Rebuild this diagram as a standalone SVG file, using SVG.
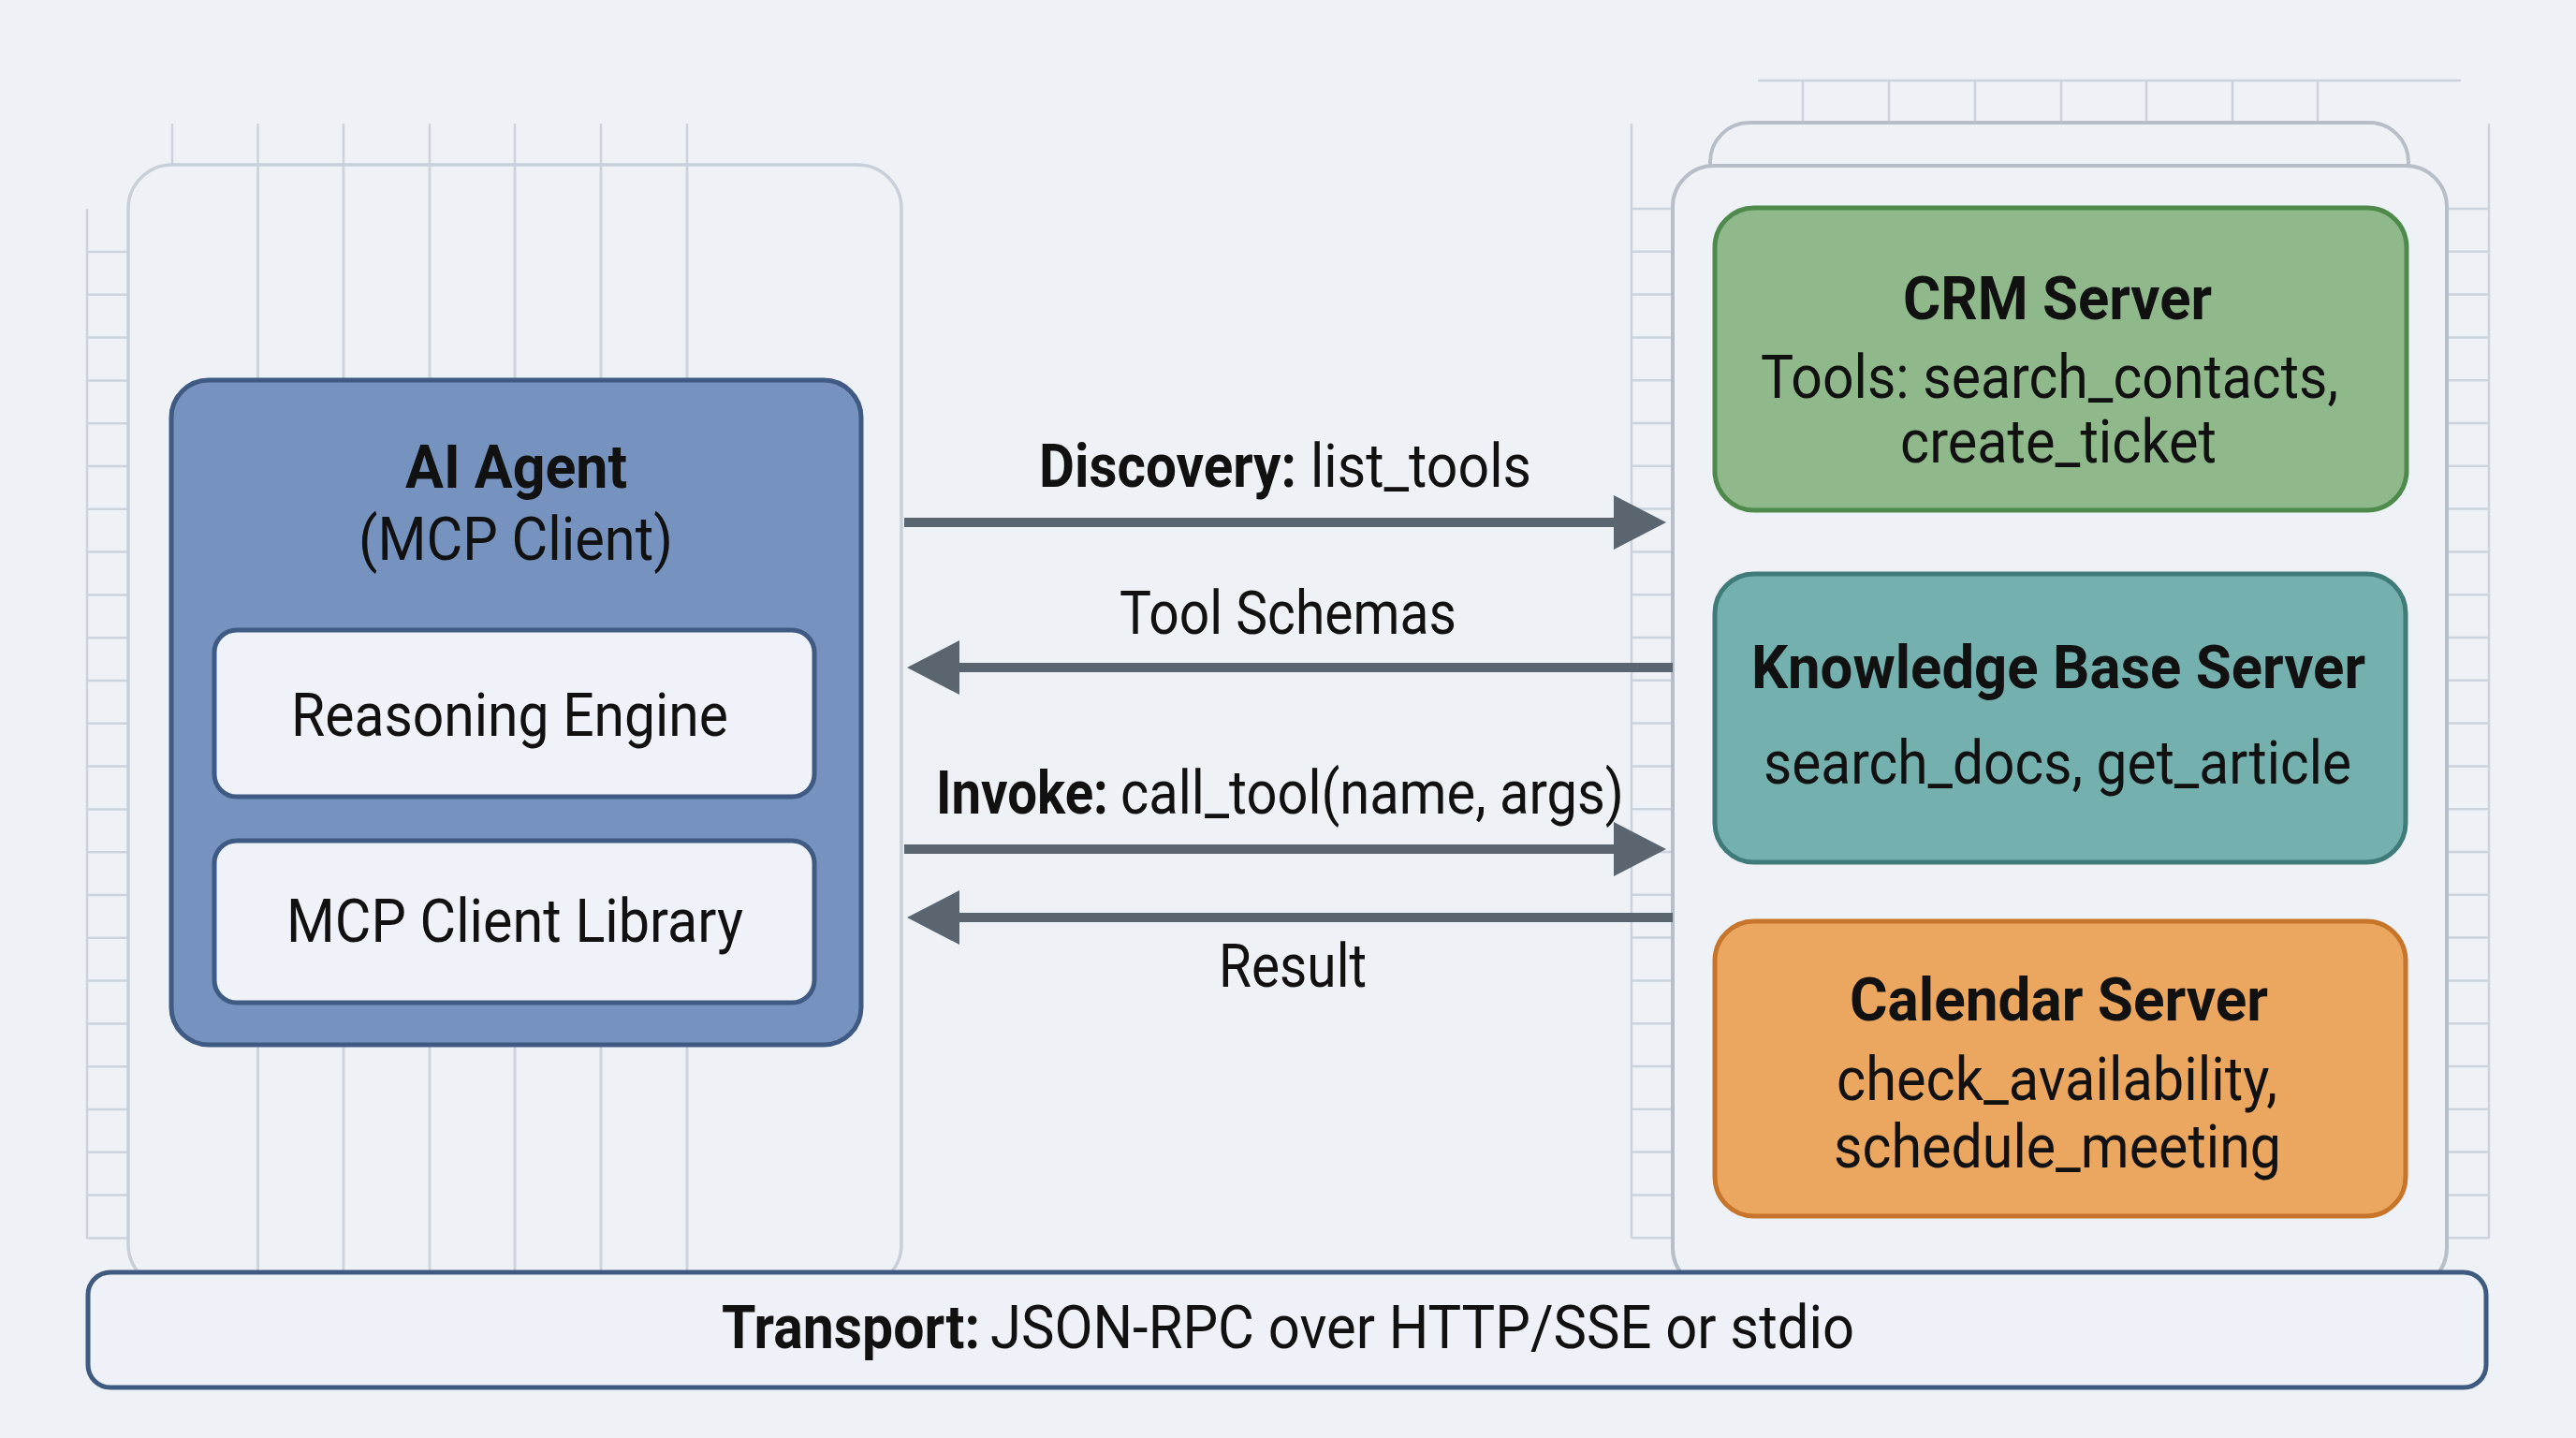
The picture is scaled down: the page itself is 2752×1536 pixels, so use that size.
<svg xmlns="http://www.w3.org/2000/svg" width="2752" height="1536" viewBox="0 0 2752 1536">
<style>
.grid{stroke:#cdd3dc;stroke-width:2.5;fill:none}
.cont{fill:#eef2f7;stroke:#c9cfd8;stroke-width:3.5}
.cont2{fill:#eef2f7;stroke:#b7bec8;stroke-width:4}
.node{stroke-width:5}
.agent{fill:#7593be;stroke:#3f5a83}
.inner{fill:#eff3f9;stroke:#3f5a83}
.crm{fill:#8fb98b;stroke:#4e8a4c}
.kb{fill:#73b0ae;stroke:#3f7b79}
.cal{fill:#eba75f;stroke:#c6752a}
.transport{fill:#eef2f8;stroke:#3e5a80}
.arrow{stroke:#5b6570;stroke-width:10;fill:none}
text{font-family:Roboto,'Liberation Sans',sans-serif;fill:#111;font-size:64px}
.b{font-weight:700}
</style>
<defs>
<marker id="ah" markerUnits="userSpaceOnUse" markerWidth="56" markerHeight="60" refX="26" refY="30" orient="auto">
<path d="M0,1 L56,30 L0,59 z" fill="#5b6570"/>
</marker>
</defs>
<rect x="0" y="0" width="2752" height="1536" fill="#eef2f7"/>

<g id="background-grid">
<path class="grid" d="M184,132V177 M275.5,132V1358 M367,132V1358 M459,132V1358 M550,132V1358 M642,132V1358 M734,132V1358"/>
<path class="grid" d="M93,223V1323 M93,269H137 M93,314.8H137 M93,360.6H137 M93,406.4H137 M93,452.2H137 M93,498H137 M93,543.8H137 M93,589.6H137 M93,635.4H137 M93,681.2H137 M93,727H137 M93,772.8H137 M93,818.6H137 M93,864.4H137 M93,910.2H137 M93,956H137 M93,1001.8H137 M93,1047.6H137 M93,1093.4H137 M93,1139.2H137 M93,1185H137 M93,1230.8H137 M93,1276.6H137 M93,1322.4H137"/>
<path class="grid" d="M1878,86H2629 M1926,86V131 M2018,86V131 M2110,86V131 M2202,86V131 M2293,86V131 M2385,86V131 M2476,86V131"/>
<path class="grid" d="M1743,132V1323 M2659,132V1323"/>
<path class="grid" d="M1743,223H1787 M1743,268.8H1787 M1743,314.6H1787 M1743,360.4H1787 M1743,406.2H1787 M1743,452H1787 M1743,497.8H1787 M1743,543.6H1787 M1743,589.4H1787 M1743,635.2H1787 M1743,681H1787 M1743,726.8H1787 M1743,772.6H1787 M1743,818.4H1787 M1743,864.2H1787 M1743,910H1787 M1743,955.8H1787 M1743,1001.6H1787 M1743,1047.4H1787 M1743,1093.2H1787 M1743,1139H1787 M1743,1184.8H1787 M1743,1230.6H1787 M1743,1276.4H1787 M1743,1322.2H1787"/>
<path class="grid" d="M2614,223H2659 M2614,268.8H2659 M2614,314.6H2659 M2614,360.4H2659 M2614,406.2H2659 M2614,452H2659 M2614,497.8H2659 M2614,543.6H2659 M2614,589.4H2659 M2614,635.2H2659 M2614,681H2659 M2614,726.8H2659 M2614,772.6H2659 M2614,818.4H2659 M2614,864.2H2659 M2614,910H2659 M2614,955.8H2659 M2614,1001.6H2659 M2614,1047.4H2659 M2614,1093.2H2659 M2614,1139H2659 M2614,1184.8H2659 M2614,1230.6H2659 M2614,1276.4H2659 M2614,1322.2H2659"/>
</g>

<g id="client-container">
<rect class="cont" x="137" y="176" width="826" height="1200" rx="47" fill-opacity="0"/>
</g>
<g id="client-grid-overlay">
<path class="grid" d="M275.5,177V1358 M367,177V1358 M459,177V1358 M550,177V1358 M642,177V1358 M734,177V1358"/>
</g>

<g id="server-container">
<rect class="cont2" x="1827" y="131" width="746" height="120" rx="42"/>
<rect class="cont2" x="1787" y="177" width="827" height="1200" rx="44"/>
</g>

<g id="ai-agent">
<rect class="node agent" x="183" y="406" width="737" height="710" rx="40"/>
<text class="b" x="433" y="521" font-size="67" textLength="237" lengthAdjust="spacingAndGlyphs">AI Agent</text>
<text x="383" y="598" font-size="63" textLength="336" lengthAdjust="spacingAndGlyphs">(MCP Client)</text>
</g>
<g id="reasoning-engine">
<rect class="node inner" x="229" y="673" width="641" height="178" rx="24"/>
<text x="311" y="786" textLength="467" lengthAdjust="spacingAndGlyphs">Reasoning Engine</text>
</g>
<g id="mcp-client-library">
<rect class="node inner" x="229" y="898" width="641" height="173" rx="24"/>
<text x="306" y="1006" textLength="488" lengthAdjust="spacingAndGlyphs">MCP Client Library</text>
</g>

<g id="crm-server">
<rect class="node crm" x="1832" y="222" width="739" height="323" rx="42"/>
<text class="b" x="2033" y="341" font-size="67" textLength="330" lengthAdjust="spacingAndGlyphs">CRM Server</text>
<text x="1881" y="425" textLength="617" lengthAdjust="spacingAndGlyphs">Tools: search_contacts,</text>
<text x="2030" y="494" textLength="338" lengthAdjust="spacingAndGlyphs">create_ticket</text>
</g>
<g id="knowledge-base-server">
<rect class="node kb" x="1832" y="613" width="738" height="308" rx="42"/>
<text class="b" x="1871" y="735" font-size="67" textLength="656" lengthAdjust="spacingAndGlyphs">Knowledge Base Server</text>
<text x="1884" y="837" textLength="628" lengthAdjust="spacingAndGlyphs">search_docs, get_article</text>
</g>
<g id="calendar-server">
<rect class="node cal" x="1832" y="984" width="738" height="315" rx="42"/>
<text class="b" x="1976" y="1090" font-size="67" textLength="447" lengthAdjust="spacingAndGlyphs">Calendar Server</text>
<text x="1962" y="1175" textLength="471" lengthAdjust="spacingAndGlyphs">check_availability,</text>
<text x="1959" y="1247" textLength="478" lengthAdjust="spacingAndGlyphs">schedule_meeting</text>
</g>

<g id="connectors">
<line class="arrow" x1="966" y1="558" x2="1750" y2="558" marker-end="url(#ah)"/>
<line class="arrow" x1="1787" y1="713" x2="999" y2="713" marker-end="url(#ah)"/>
<line class="arrow" x1="966" y1="907" x2="1750" y2="907" marker-end="url(#ah)"/>
<line class="arrow" x1="1787" y1="980" x2="999" y2="980" marker-end="url(#ah)"/>
<text font-size="62" y="520"><tspan class="b" x="1110" textLength="275" lengthAdjust="spacingAndGlyphs">Discovery:</tspan><tspan x="1400" textLength="236" lengthAdjust="spacingAndGlyphs">list_tools</tspan></text>
<text font-size="62" x="1196" y="677" textLength="360" lengthAdjust="spacingAndGlyphs">Tool Schemas</text>
<text font-size="62" y="869"><tspan class="b" x="1000" textLength="184" lengthAdjust="spacingAndGlyphs">Invoke:</tspan><tspan x="1197" textLength="538" lengthAdjust="spacingAndGlyphs">call_tool(name, args)</tspan></text>
<text font-size="62" x="1302" y="1054" textLength="158" lengthAdjust="spacingAndGlyphs">Result</text>
</g>

<g id="transport">
<rect class="node transport" x="94" y="1359" width="2562" height="123" rx="24"/>
<text font-size="66" y="1440"><tspan class="b" x="771" textLength="276" lengthAdjust="spacingAndGlyphs">Transport:</tspan><tspan x="1058" textLength="923" lengthAdjust="spacingAndGlyphs">JSON-RPC over HTTP/SSE or stdio</tspan></text>
</g>
</svg>
